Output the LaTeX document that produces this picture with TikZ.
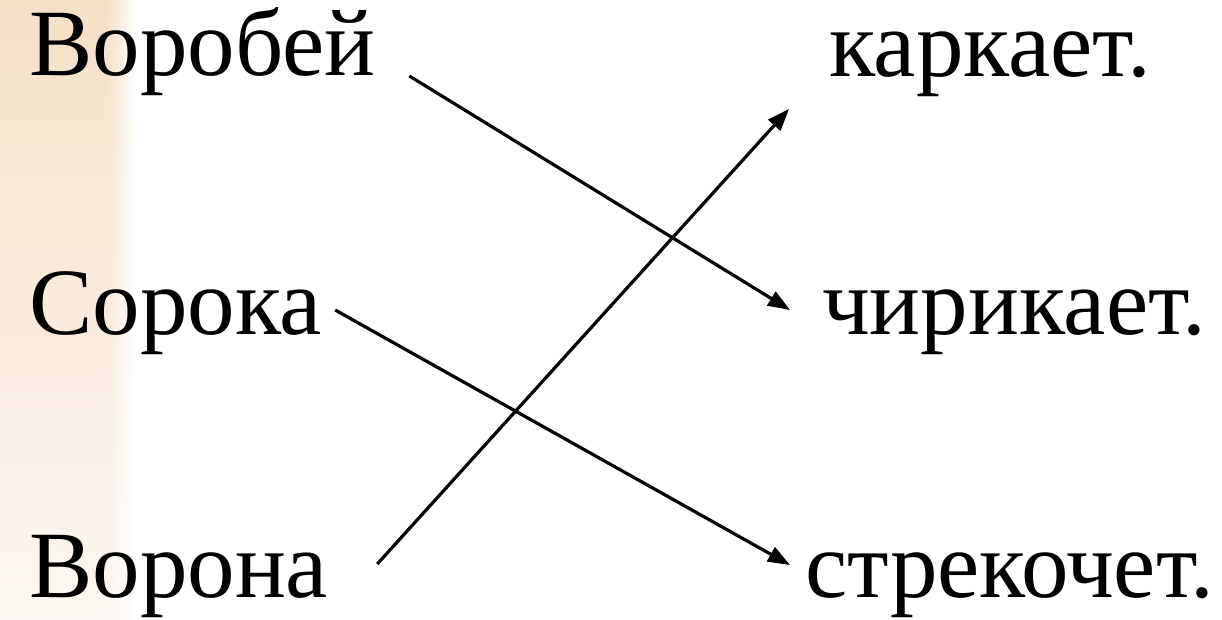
\documentclass[tikz,border=0pt]{standalone}
\usepackage{fontspec}
\setmainfont{Liberation Serif}
\usetikzlibrary{arrows.meta,calc,fadings}
\definecolor{peachtop}{RGB}{245,224,198}
\definecolor{peachbot}{RGB}{252,247,242}
\tikzfading[name=fadeR, left color=transparent!0, right color=transparent!100]
\tikzset{
  word/.style={anchor=base west, inner sep=0pt, font=\fontsize{95}{105}\selectfont},
  link/.style={line width=3.2pt, -{Triangle[length=22pt,width=16pt]}}
}
\begin{document}
\begin{tikzpicture}[x=1pt,y=-1pt]
\useasboundingbox (0,0) rectangle (1222,620);
\fill[white] (0,0) rectangle (1222,620);
\shade[top color=peachtop, bottom color=peachbot] (0,0) rectangle (108,620);
\shade[top color=peachtop, bottom color=peachbot, path fading=fadeR] (108,0) rectangle (135,620);
% words
\node[word] (vorobey) at (29,76) {Воробей};
\node[word] (soroka) at (29,334) {Сорока};
\node[word] (vorona) at (29,597) {Ворона};
\node[word] (karkaet) at (829,77) {каркает.};
\node[word] (chirikaet) at (822,334) {чирикает.};
\node[word] (strekochet) at (805,597) {стрекочет.};
% arrow ends
\coordinate (s1) at ($(vorobey.base east)+(34,0)$);
\coordinate (e1) at ($(chirikaet.base west)+(-32,-24)$);
\coordinate (s2) at ($(soroka.base east)+(13,-24)$);
\coordinate (e2) at ($(strekochet.base west)+(-15,-32)$);
\coordinate (s3) at ($(vorona.base east)+(49,-33)$);
\coordinate (e3) at ($(karkaet.base west)+(-40,32)$);
\draw[link] (s1) -- (e1);
\draw[link] (s2) -- (e2);
\draw[link] (s3) -- (e3);
\end{tikzpicture}
\end{document}
